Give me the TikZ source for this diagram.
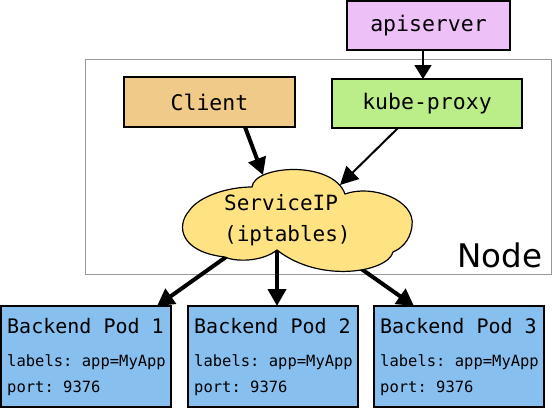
\documentclass[tikz,border=0pt]{standalone}
\usepackage{fontspec}
\setmainfont{DejaVu Sans}
\setmonofont{DejaVu Sans Mono}
\usetikzlibrary{arrows.meta,calc}
\definecolor{apicol}{HTML}{EDC1F7}
\definecolor{clientcol}{HTML}{F0CA88}
\definecolor{proxycol}{HTML}{BBEE88}
\definecolor{cloudcol}{HTML}{FFE383}
\definecolor{podcol}{HTML}{87BFEF}
\definecolor{framecol}{HTML}{999999}
\tikzset{
  box/.style={draw=black, line width=1.5pt, rectangle, outer sep=0pt, inner sep=0pt,
    font=\ttfamily\fontsize{21.5}{25}\selectfont},
  podbox/.style={box, fill=podcol, minimum width=170pt, minimum height=101pt},
  podtitle/.style={anchor=base west, inner sep=0pt, font=\ttfamily\fontsize{20}{24}\selectfont},
  podline/.style={anchor=base west, inner sep=0pt, font=\ttfamily\fontsize{15.5}{18}\selectfont},
  cloudtxt/.style={anchor=base west, inner sep=0pt, font=\ttfamily\fontsize{21}{25}\selectfont},
  bigarrow/.style={line width=4pt, -{Triangle[length=17pt,width=18pt]}},
  midarrow/.style={line width=2pt, -{Triangle[length=18pt,width=18pt]}},
  smallarrow/.style={line width=1.5pt, -{Triangle[length=14pt,width=17pt]}},
}
\begin{document}
\begin{tikzpicture}[x=1pt,y=-1pt]
\useasboundingbox (0,0) rectangle (552,408);
% Node frame
\node[draw=framecol, line width=1pt, rectangle, outer sep=0pt, inner sep=0pt,
  minimum width=466pt, minimum height=215pt] (frame) at (318,166.5) {};
\node[anchor=base west, inner sep=0pt, font=\fontsize{32.5}{38}\selectfont] (nodelabel) at (457,267) {Node};
% top boxes
\node[box, fill=apicol, minimum width=163pt, minimum height=49pt] (api) at (428.5,25.5) {apiserver};
\node[box, fill=clientcol, minimum width=171pt, minimum height=50pt] (client) at (209.5,102) {Client};
\node[box, fill=proxycol, minimum width=190pt, minimum height=49pt] (proxy) at (427,103.5) {kube-proxy};
% pods
\node[podbox] (pod1) at (86,356.5) {};
\node[podbox] (pod2) at (273,356.5) {};
\node[podbox] (pod3) at (459,356.5) {};
\foreach \p/\n in {pod1/1,pod2/2,pod3/3}{
  \node[podtitle] (\p t) at ($(\p.north west)+(6,27)$) {Backend Pod \n};
  \node[podline] (\p l) at ($(\p.north west)+(6,60)$) {labels: app=MyApp};
  \node[podline] (\p p) at ($(\p.north west)+(6,86)$) {port: 9376};
}
% cloud attachment points
\coordinate (cinclient) at (263,175);
\coordinate (cinproxy) at (340,185);
\coordinate (cout1) at (226,257);
\coordinate (cout2) at (277,250);
\coordinate (cout3) at (360,268);
% arrows
\draw[smallarrow] ($(api.south)+(-5.5,0)$) -- ($(proxy.north)+(-4,0)$);
\draw[bigarrow] ($(client.south)+(35.5,0)$) -- (cinclient);
\draw[midarrow] ($(proxy.south)+(-29,0)$) -- (cinproxy);
\draw[bigarrow] (cout1) -- ($(pod1.north)+(71,0)$);
\draw[bigarrow] (cout2) -- ($(pod2.north)+(4,0)$);
\draw[bigarrow] (cout3) -- ($(pod3.north)+(-45,0)$);
% cloud
\path[draw=black, line width=1.2pt, fill=cloudcol]
  (252,187) .. controls (254,165) and (333,160) .. (345,194)
  .. controls (372,184) and (416,200) .. (412,226)
  .. controls (410,242) and (400,249) .. (393,252)
  .. controls (388,272) and (320,284) .. (277,250)
  .. controls (262,262) and (235,262) .. (225,257)
  .. controls (180,252) and (176,226) .. (189,211)
  .. controls (199,196) and (228,187) .. (252,187) -- cycle;
\node[cloudtxt] (svc1) at (224,210) {ServiceIP};
\node[cloudtxt] (svc2) at (224,241) {(iptables)};
\end{tikzpicture}
\end{document}
